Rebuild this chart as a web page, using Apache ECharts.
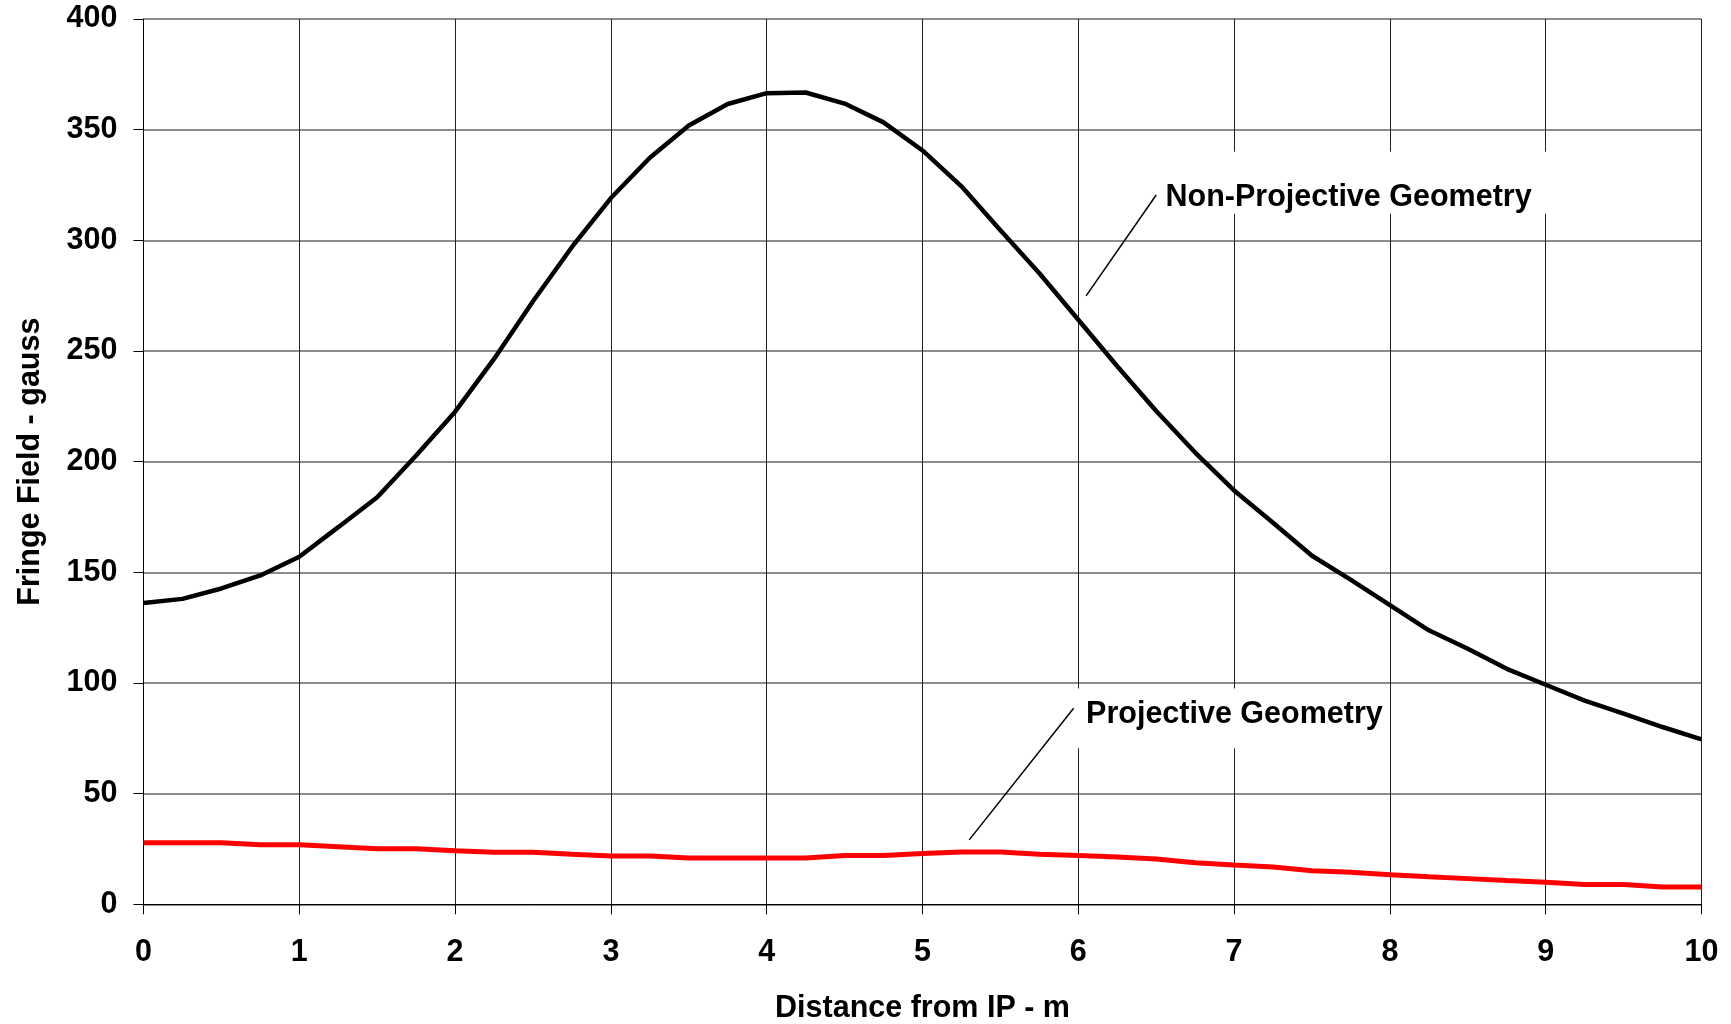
<!DOCTYPE html>
<html>
<head>
<meta charset="utf-8">
<script src="https://cdn.jsdelivr.net/npm/echarts@6/dist/echarts.min.js"></script>
<style>
html,body{margin:0;padding:0;background:#fff;}
#c{width:1731px;height:1024px;}
</style>
</head>
<body>
<div id="c"></div>
<script>
// Distance from IP (m)
const distance = [0,0.25,0.5,0.75,1,1.25,1.5,1.75,2,2.25,2.5,2.75,3,3.25,3.5,3.75,4,4.25,4.5,4.75,5,5.25,5.5,5.75,6,6.25,6.5,6.75,7,7.25,7.5,7.75,8,8.25,8.5,8.75,9,9.25,9.5,9.75,10];
// Fringe field (gauss), Non-Projective Geometry
const nonProjective = [136.1,138,142.7,148.6,157,170.4,183.9,202.8,222.6,246.4,272.5,297,319.1,337.3,351.9,361.6,366.5,366.8,361.8,353.3,340.6,324.4,304.6,285.1,264.1,243.1,222.9,204.1,187,172.4,157.5,146.6,135.2,123.8,115.5,106.4,99.2,92,86.2,80.1,74.5];
// Fringe field (gauss), Projective Geometry
const projective = [27.8,27.8,27.8,26.9,26.9,26.0,25.1,25.1,24.2,23.5,23.5,22.6,21.8,21.8,20.9,20.9,20.9,20.9,22.0,22.0,22.9,23.6,23.6,22.6,22.0,21.4,20.5,18.8,17.8,16.9,15.2,14.5,13.4,12.4,11.6,10.7,10.0,8.9,8.9,7.8,7.8];
// Axis ticks
const xTicks = {min:0, max:10, interval:1};
const yTicks = {min:0, max:400, interval:50};
// Annotations (data units): label anchor [x, y], leader line [from, to]
const annotations = [
  {text:'Non-Projective Geometry', label:[6.56, 319.5], leader:[[6.50, 320.5],[6.05, 274.9]], box:[6.48, 340, 9.05, 312]},
  {text:'Projective Geometry', label:[6.05, 85.5], leader:[[5.97, 88.6],[5.30, 29.1]], box:[5.98, 97.5, 7.95, 70.5]}
];

const FONT = "'Liberation Sans', Arial, sans-serif";
const FS = 30.5;
const chart = echarts.init(document.getElementById('c'), null, {renderer:'canvas'});
const toPairs = (xs, ys) => xs.map((x,i)=>[x, ys[i]]);

chart.setOption({
  animation:false,
  backgroundColor:'#fff',
  grid:{left:143.5, right:29.5, top:19, bottom:119.7, containLabel:false, outerBoundsMode:'none'},
  xAxis:{
    type:'value', min:xTicks.min, max:xTicks.max, interval:xTicks.interval,
    name:'Distance from IP - m', nameLocation:'middle', nameGap:89,
    nameTextStyle:{fontFamily:FONT, fontWeight:'bold', fontSize:FS, color:'#000'},
    axisLine:{show:true, onZero:false, lineStyle:{color:'#000', width:1}},
    axisTick:{show:true, inside:false, length:10, lineStyle:{color:'#000', width:1}},
    axisLabel:{fontFamily:FONT, fontWeight:'bold', fontSize:FS, color:'#000', margin:33},
    splitLine:{show:true, lineStyle:{color:'#222', width:1}}
  },
  yAxis:{
    type:'value', min:yTicks.min, max:yTicks.max, interval:yTicks.interval,
    name:'Fringe Field - gauss', nameLocation:'middle', nameGap:97, nameRotate:90,
    nameTextStyle:{fontFamily:FONT, fontWeight:'bold', fontSize:FS, color:'#000'},
    axisLine:{show:true, lineStyle:{color:'#000', width:1}},
    axisTick:{show:true, inside:false, length:10, lineStyle:{color:'#000', width:1}},
    axisLabel:{fontFamily:FONT, fontWeight:'bold', fontSize:FS, color:'#000', margin:26},
    splitLine:{show:true, lineStyle:{color:'#666', width:1.5}}
  },
  series:[
    {type:'line', name:'Non-Projective Geometry', data:toPairs(distance, nonProjective),
     showSymbol:false, symbol:'none', lineStyle:{color:'#000', width:4.5}, z:3},
    {type:'line', name:'Projective Geometry', data:toPairs(distance, projective),
     showSymbol:false, symbol:'none', lineStyle:{color:'#ff0000', width:5}, z:3}
  ]
});

const px = p => chart.convertToPixel({gridIndex:0}, p);
const graphics = [];
annotations.forEach(a => {
  const b0 = px([a.box[0], a.box[1]]), b1 = px([a.box[2], a.box[3]]);
  graphics.push({type:'rect', shape:{x:b0[0], y:b0[1], width:b1[0]-b0[0], height:b1[1]-b0[1]},
    style:{fill:'#fff'}, z:2, silent:true});
  const l0 = px(a.leader[0]), l1 = px(a.leader[1]);
  graphics.push({type:'line', shape:{x1:l0[0], y1:l0[1], x2:l1[0], y2:l1[1]},
    style:{stroke:'#000', lineWidth:1.5}, z:4, silent:true});
  const t = px(a.label);
  graphics.push({type:'text', x:t[0], y:t[1], z:4, silent:true,
    style:{text:a.text, fill:'#000', font:"bold " + FS + "px " + FONT, textAlign:'left', textVerticalAlign:'middle'}});
});
chart.setOption({graphic:graphics});
</script>
</body>
</html>
